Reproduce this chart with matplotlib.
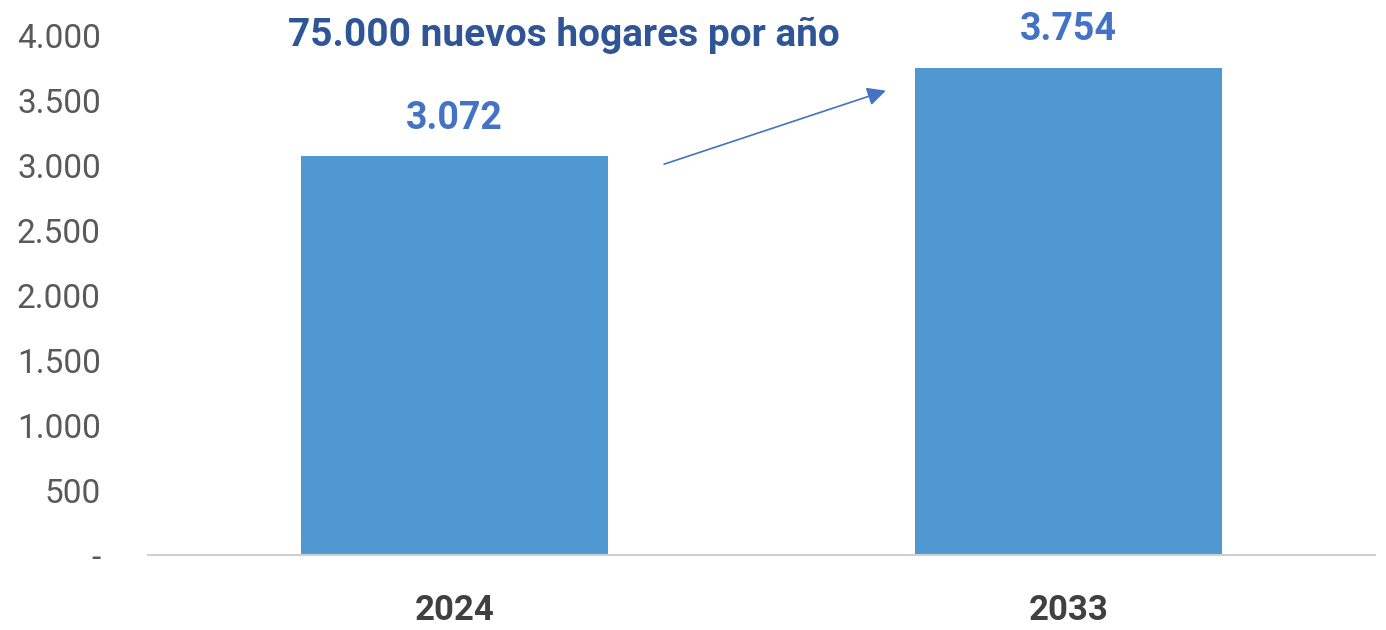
import matplotlib
matplotlib.use("Agg")
import matplotlib.pyplot as plt
from matplotlib.ticker import FuncFormatter

years = ["2024", "2033"]
hogares = [3072, 3754]   # miles de hogares
y_ticks = [0, 500, 1000, 1500, 2000, 2500, 3000, 3500, 4000]
titulo = "75.000 nuevos hogares por año"

plt.rcParams['font.family'] = ['Roboto', 'DejaVu Sans']

fig = plt.figure(figsize=(13.86, 6.3), dpi=100)
ax = fig.add_axes([0.1068, 0.119, 0.8852, 0.824])

x = range(len(years))
ax.bar(x, hogares, width=0.5, color='#4F98D1', zorder=2)

for i, v in enumerate(hogares):
    lbl = f"{v:,}".replace(",", ".")
    ax.text(i, v + 150, lbl, ha='center', va='bottom', fontsize=27,
            fontweight='bold', color='#4472C4', clip_on=False)

ax.set_xlim(-0.5, 1.5)
ax.set_ylim(0, 4000)
ax.set_xticks(list(x))
ax.set_xticklabels(years, fontsize=25, fontweight='bold', color='#404040')
ax.set_yticks(y_ticks)
ax.yaxis.set_major_formatter(FuncFormatter(
    lambda v, p: "-" if v == 0 else f"{int(v):,}".replace(",", ".")))
ax.tick_params(axis='y', labelsize=24, labelcolor='#595959', length=0, pad=34)
ax.tick_params(axis='x', length=0, pad=28)

for s in ['top', 'right', 'left']:
    ax.spines[s].set_visible(False)
ax.spines['bottom'].set_color('#D0D0D0')
ax.spines['bottom'].set_linewidth(1.5)

# flecha de crecimiento
ax.annotate("", xy=(0.707, 3585), xytext=(0.337, 3005),
            arrowprops=dict(arrowstyle='-|>', color='#4472C4', lw=1.2,
                            mutation_scale=28), annotation_clip=False)

fig.text(0.407, 0.944, titulo, ha='center', va='center', fontsize=28,
         fontweight='bold', color='#2F5597')

fig.savefig("out.png", dpi=100)
